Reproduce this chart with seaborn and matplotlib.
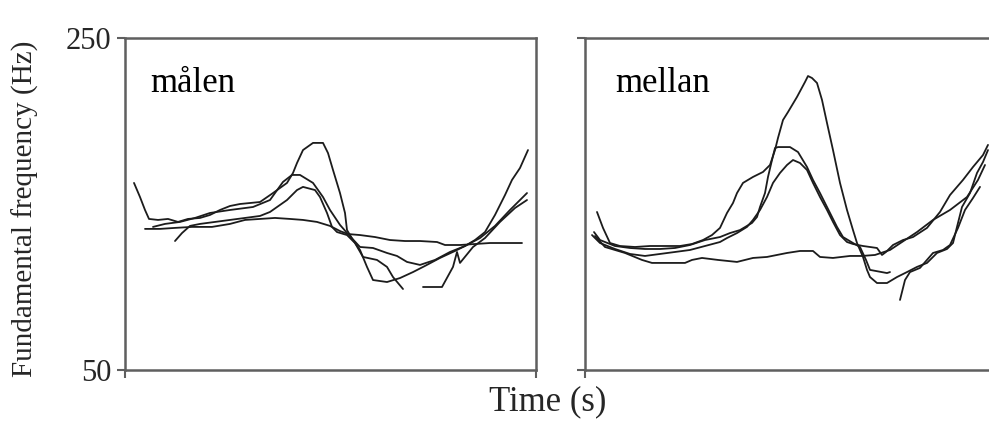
import numpy as np
import pandas as pd
import matplotlib
matplotlib.use("Agg")
import matplotlib.pyplot as plt
import seaborn as sns

# ---- data (time in ms within window, F0 in Hz) ----
panels = ["målen", "mellan"]
y_ticks = [50, 250]
y_tick_labels = ["50", "250"]

# målen
malen_c1_t = [9, 15, 20, 24, 33, 43, 53, 63, 75, 85, 95, 105, 115, 125, 135, 148, 162, 168, 172, 178, 188, 198, 203, 208, 215, 220, 222, 228, 235, 242, 248, 262, 275, 288, 300, 315, 330, 340, 350, 360, 370, 380, 387, 395, 403]
malen_c1_f = [162.7, 154.2, 146.4, 141.0, 140.4, 141.0, 139.2, 141.0, 141.6, 143.4, 146.4, 148.8, 150.0, 150.6, 151.2, 156.6, 162.7, 168.7, 174.7, 182.5, 186.8, 186.8, 180.7, 170.5, 156.6, 144.6, 134.3, 128.3, 122.3, 112.1, 104.2, 103.0, 105.4, 109.0, 112.7, 117.5, 121.7, 124.7, 128.3, 133.1, 143.4, 155.4, 164.5, 171.7, 182.5]

malen_c2_t = [28, 40, 55, 70, 85, 105, 128, 145, 158, 167, 175, 188, 198, 205, 215, 223, 235, 248, 262, 272, 282, 295, 310, 325, 340, 355, 370, 385, 402]
malen_c2_f = [136.2, 138.0, 139.2, 141.6, 144.6, 146.4, 148.2, 152.4, 163.3, 167.5, 167.5, 162.7, 154.2, 146.4, 137.4, 131.9, 124.1, 123.5, 120.5, 118.7, 115.1, 113.3, 116.3, 121.1, 124.7, 129.5, 136.8, 146.4, 156.6]

malen_c3_t = [50, 57, 65, 75, 90, 105, 120, 135, 145, 162, 172, 178, 190, 195, 202, 207, 212, 222, 230, 238, 252, 262, 268, 278, np.nan, 298, 317, 328, 332, 335, 348, 360, 375, 390, 402]
malen_c3_f = [127.7, 132.5, 136.8, 138.0, 139.2, 140.4, 141.6, 142.8, 145.2, 152.4, 158.4, 160.3, 158.4, 154.2, 144.6, 136.2, 133.1, 131.3, 126.5, 118.1, 116.3, 112.1, 106.0, 98.8, np.nan, 100.0, 100.0, 112.1, 121.1, 114.5, 124.1, 129.5, 139.2, 147.6, 152.4]

malen_c4_t = [20, 35, 50, 67, 87, 105, 120, 135, 150, 165, 178, 192, 205, 215, 223, 235, 250, 265, 280, 295, 312, 320, 335, 350, 365, 380, 397]
malen_c4_f = [135.0, 135.0, 135.6, 136.2, 136.2, 138.0, 140.4, 141.0, 141.6, 141.0, 140.4, 139.2, 136.8, 133.7, 131.9, 131.3, 130.1, 128.3, 127.7, 127.7, 127.1, 125.3, 125.3, 125.9, 126.5, 126.5, 126.5]

# mellan
mellan_c1_t = [12, 18, 25, 35, 50, 65, 80, 95, 107, 118, 127, 135, 142, 148, 152, 158, 168, 178, 185, 190, 193, 198, 203, 212, 220, 223, 227, 232, 237, 242, 248, 255, 262, 268, 272, 278, 282, 285, 292, 302, 312, 322, 332, 342, 352, 362, 368, 372, 377, 385, 392, 398, 403]
mellan_c1_f = [145.2, 135.6, 126.5, 124.7, 124.1, 124.7, 124.7, 124.7, 125.9, 128.3, 131.3, 135.6, 144.6, 150.6, 156.6, 162.7, 166.3, 169.3, 173.5, 182.5, 189.8, 200.6, 205.4, 214.5, 223.5, 227.1, 225.9, 222.9, 212.7, 198.8, 182.5, 162.7, 146.4, 134.3, 126.5, 118.1, 110.3, 106.0, 102.4, 102.4, 106.0, 109.0, 112.1, 114.5, 120.5, 122.9, 126.5, 136.2, 148.2, 156.6, 168.7, 175.3, 182.5]

mellan_c2_t = [9, 15, 30, 45, 60, 75, 90, 105, 120, 135, 145, 155, 167, 172, 175, 180, 183, 187, 190, 193, 205, 213, 222, 228, 235, 242, 252, 258, 268, 275, 281, 285, 302, 305, np.nan, 315, 320, 325, 335, 348, 358, 365, 373, 380, 388, 395]
mellan_c2_f = [133.1, 128.3, 124.7, 123.5, 122.9, 122.9, 123.5, 125.3, 128.3, 130.1, 132.5, 134.3, 138.6, 142.2, 148.2, 156.6, 166.3, 176.5, 183.7, 184.3, 184.3, 181.3, 172.3, 164.5, 156.6, 148.2, 136.2, 130.1, 126.5, 124.1, 116.3, 110.3, 108.4, 109.0, np.nan, 92.2, 104.2, 109.0, 111.5, 120.5, 122.3, 125.3, 135.6, 146.4, 153.6, 160.3]

mellan_c3_t = [7, 15, 30, 45, 60, 75, 90, 105, 120, 135, 142, 152, 162, 168, 175, 182, 188, 195, 202, 208, 215, 222, 228, 235, 242, 248, 255, 262, 268, 278, 292, 297, 301, 308, 318, 328, 342, 355, 365, 378, 388, 398, 403]
mellan_c3_f = [131.3, 126.5, 122.9, 119.9, 118.7, 119.9, 121.1, 122.3, 124.7, 127.1, 129.5, 132.5, 136.2, 140.4, 146.4, 154.2, 162.7, 168.7, 173.5, 176.5, 174.7, 170.5, 162.7, 154.2, 146.4, 139.2, 131.3, 127.1, 125.9, 124.7, 123.5, 119.3, 121.1, 125.3, 128.3, 130.1, 135.6, 145.2, 155.4, 164.5, 172.3, 179.5, 185.6]

mellan_c4_t = [10, 20, 40, 57, 67, 83, 100, 107, 117, 133, 152, 168, 182, 202, 215, 228, 235, 248, 265, 277, 290, 305, 320, 332, 348, 365, 382, 393, 400]
mellan_c4_f = [130.7, 124.1, 120.5, 116.3, 114.5, 114.5, 114.5, 116.3, 117.5, 116.3, 115.1, 117.5, 118.1, 120.5, 121.7, 121.7, 118.1, 117.5, 118.7, 118.7, 119.3, 122.3, 128.3, 133.1, 140.4, 146.4, 154.2, 164.5, 173.5]

contours = {
    "målen": [(malen_c1_t, malen_c1_f), (malen_c2_t, malen_c2_f),
              (malen_c3_t, malen_c3_f), (malen_c4_t, malen_c4_f)],
    "mellan": [(mellan_c1_t, mellan_c1_f), (mellan_c2_t, mellan_c2_f),
               (mellan_c3_t, mellan_c3_f), (mellan_c4_t, mellan_c4_f)],
}

# ---- style ----
sns.set_theme(style="white")
plt.rcParams["font.family"] = ["Liberation Serif", "DejaVu Serif"]

W, H = 989, 426
fig = plt.figure(figsize=(W / 100, H / 100), dpi=100)

spine_col = "#5f5f5f"
line_col = "#1c1c1c"

# (left px, top px, width px, height px, time span shown, label offset px)
ax_boxes = [(125, 38, 411, 332, 411, 25), (585, 38, 450, 332, 450, 30)]

for i, (name, box) in enumerate(zip(panels, ax_boxes)):
    x0, y0, w, h, span, lab_dx = box
    ax = fig.add_axes([x0 / W, 1 - (y0 + h) / H, w / W, h / H])
    for (t, f) in contours[name]:
        t = np.asarray(t, dtype=float)
        f = np.asarray(f, dtype=float)
        seg_id = np.cumsum(np.isnan(t))
        df = pd.DataFrame({"t": t, "f": f, "seg": seg_id}).dropna()
        for _, d in df.groupby("seg"):
            sns.lineplot(data=d, x="t", y="f", ax=ax, color=line_col,
                         linewidth=1.3, sort=False, estimator=None)
    ax.set_xlim(0, span)
    ax.set_ylim(50, 250)
    ax.set_yticks(y_ticks)
    if i == 0:
        ax.set_xticks([0, span])
        ax.set_yticklabels(y_tick_labels, fontsize=22)
    else:
        ax.set_xticks([0])
        ax.set_yticklabels([])
    ax.set_xticklabels([])
    ax.tick_params(axis="both", direction="out", length=6, width=1.5,
                   color=spine_col, pad=4, left=True, bottom=True)
    for s in ax.spines.values():
        s.set_visible(True)
        s.set_color(spine_col)
        s.set_linewidth(1.8)
    if i == 1:
        ax.spines["right"].set_visible(False)
    ax.set_xlabel("")
    ax.set_ylabel("")
    ax.text(lab_dx / w, 0.837, name, transform=ax.transAxes,
            fontsize=25, ha="left", va="baseline", color="black")

fig.text(25 / W, 1 - 209 / H, "Fundamental frequency (Hz)", rotation=90,
         ha="center", va="center", fontsize=21)
fig.text(548 / W, 1 - 402 / H, "Time (s)", ha="center", va="center",
         fontsize=25)

fig.savefig("out.png", dpi=100)
